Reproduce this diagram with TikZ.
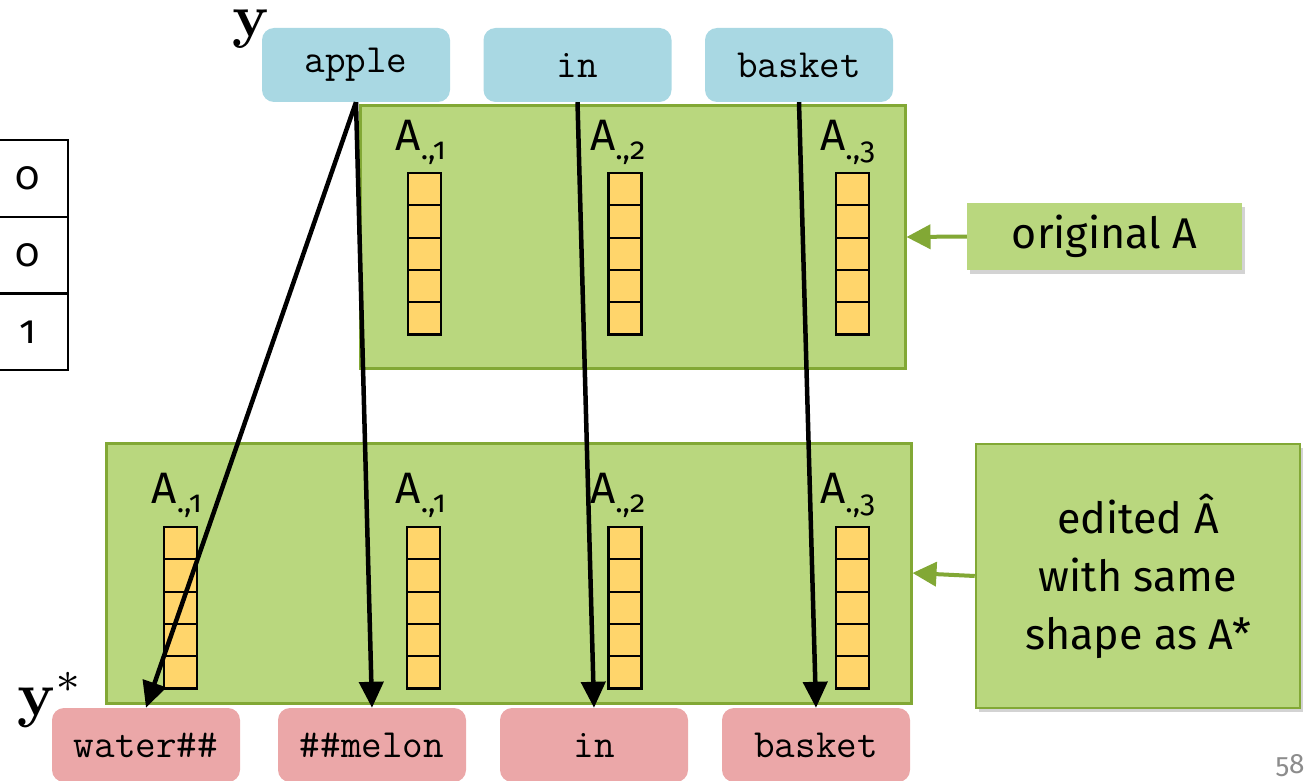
\documentclass[tikz,border=0pt]{standalone}
\usepackage{graphicx}
\usepackage[no-math]{fontspec}
\setmainfont{Fira Sans}[Numbers=OldStyle]
\usetikzlibrary{arrows.meta,shadows}
\definecolor{tokblue}{HTML}{A9D8E3}
\definecolor{tokred}{HTML}{EBA7A8}
\definecolor{gfill}{HTML}{B9D77E}
\definecolor{gborder}{HTML}{82A835}
\definecolor{cellyellow}{HTML}{FFD56B}
\tikzset{
  tok/.style={rounded corners=12pt, minimum width=188pt, minimum height=74pt, inner sep=0pt,
    font=\fontsize{40}{40}\selectfont\ttfamily},
  gbox/.style={fill=gfill, draw=gborder, line width=3pt, inner sep=0pt},
  cell/.style={draw=black, line width=2.2pt, fill=cellyellow, minimum width=33pt, minimum height=32.3pt, inner sep=0pt},
  lbl/.style={font=\fontsize{44}{44}\selectfont, inner sep=0pt},
  blk/.style={line width=4.5pt, -{Triangle[length=26pt,width=24pt]}},
  grn/.style={draw=gborder, line width=4pt, -{Triangle[length=24pt,width=24pt]}},
  tabcell/.style={draw=black, line width=2.2pt, minimum width=80pt, minimum height=76.7pt, inner sep=0pt,
    font=\fontsize{40}{40}\selectfont},
  side/.style={fill=gfill, inner sep=0pt, drop shadow={shadow xshift=3pt, shadow yshift=-4pt, opacity=0.35},
    font=\fontsize{43}{58}\selectfont, align=center},
  ylab/.style={anchor=base west, inner sep=0pt},
}
\begin{document}
\begin{tikzpicture}[x=1pt,y=-1pt]
\useasboundingbox (0,0) rectangle (1307,781);
\clip (0,0) rectangle (1307,781);

% left table
\node[tabcell] (r1) at (28,178.5) {0};
\node[tabcell] (r2) at (28,255.2) {0};
\node[tabcell] (r3) at (28,331.9) {1};

% green boxes
\node[gbox, minimum width=545pt, minimum height=262pt] (G1) at (632.5,237) {};
\node[gbox, minimum width=805pt, minimum height=260pt] (G2) at (508.5,573) {};

% top columns
\foreach \c/\x in {1/424.5, 2/625, 3/852.5}{
  \foreach \j in {0,...,4}{
    \node[cell] (tc\c-\j) at (\x,{189.2+32.3*\j}) {};
  }
}
% bottom columns
\foreach \c/\x in {1/180.5, 2/423.5, 3/625, 4/852.5}{
  \foreach \j in {0,...,4}{
    \node[cell] (bc\c-\j) at (\x,{543.2+32.3*\j}) {};
  }
}

% labels
\node[lbl] (la1) at (421,142) {A\textsubscript{.,1}};
\node[lbl] (la2) at (618,142) {A\textsubscript{.,2}};
\node[lbl] (la3) at (848,142) {A\textsubscript{.,3}};
\node[lbl] (lb1) at (177,495) {A\textsubscript{.,1}};
\node[lbl] (lb2) at (421,495) {A\textsubscript{.,1}};
\node[lbl] (lb3) at (618,495) {A\textsubscript{.,2}};
\node[lbl] (lb4) at (848,495) {A\textsubscript{.,3}};

% tokens
\node[tok, fill=tokblue] (t1) at (356,65) {apple};
\node[tok, fill=tokblue] (t2) at (577.5,65) {in};
\node[tok, fill=tokblue] (t3) at (799,65) {basket};
\node[tok, fill=tokred] (b1) at (146,745) {water\#\#};
\node[tok, fill=tokred] (b2) at (372,745) {\#\#melon};
\node[tok, fill=tokred] (b3) at (594,745) {in};
\node[tok, fill=tokred] (b4) at (816,745) {basket};

% y labels
\node[ylab] (ytop) at (232,37) {\scalebox{6}{$\mathbf{y}$}};
\node[ylab] (ystar) at (17,715) {\scalebox{6.2}{$\mathbf{y}^{*}$}};

% side boxes
\node[side, minimum width=275pt, minimum height=67pt] (orig) at (1104.5,236.5) {original A};
\node[side, draw=gborder, line width=2.5pt, minimum width=324pt, minimum height=264pt] (edit) at (1138,576) {edited Â\\with same\\shape as A*};
\draw[grn] (orig.west) -- (G1.east);
\draw[grn] (edit.west) -- (G2.east);

% arrows
\draw[blk] (t1.south) -- (b1.north);
\draw[blk] (t1.south) -- (b2.north);
\draw[blk] (t2.south) -- (b3.north);
\draw[blk] (t3.south) -- (b4.north);

% page number
\node[font=\fontsize{28}{28}\selectfont, text=black!45] (pg) at (1290,766) {58};
\end{tikzpicture}
\end{document}
